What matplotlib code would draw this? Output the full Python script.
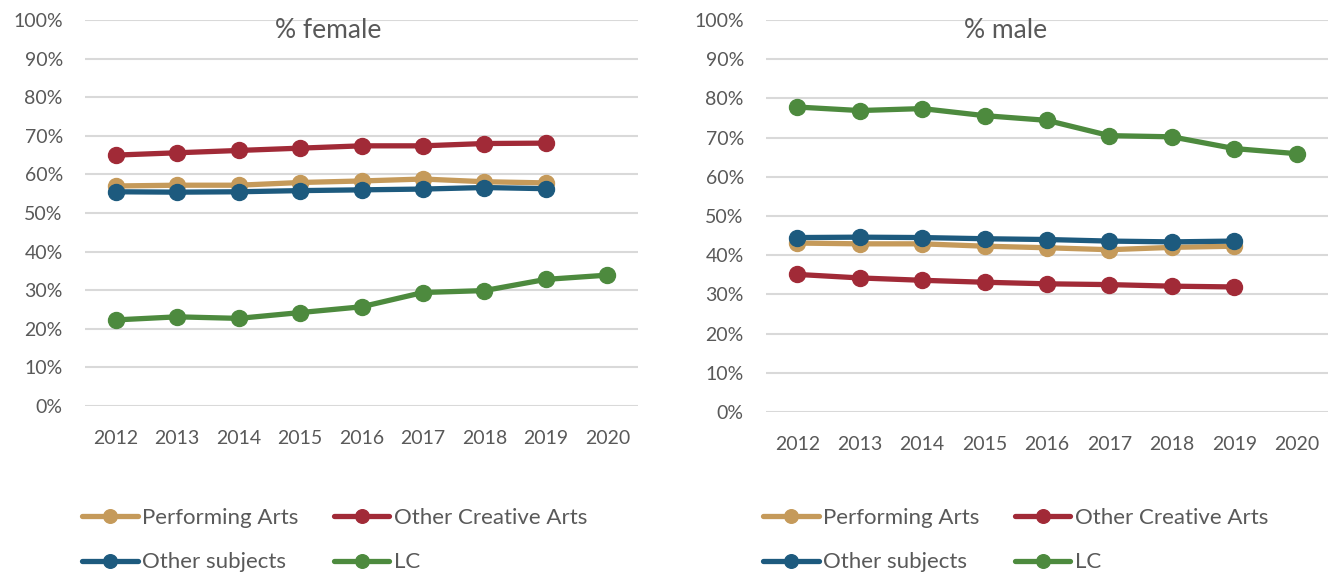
import matplotlib
matplotlib.use("Agg")
import matplotlib.pyplot as plt
from matplotlib.ticker import PercentFormatter

# share of entrants by gender, per subject group
years = ["2012", "2013", "2014", "2015", "2016", "2017", "2018", "2019", "2020"]
series = ["Performing Arts", "Other Creative Arts", "Other subjects", "LC"]

female_pa = [57.0, 57.2, 57.2, 57.9, 58.3, 58.8, 58.1, 57.8]
female_oca = [65.0, 65.6, 66.2, 66.8, 67.4, 67.4, 68.0, 68.1]
female_other = [55.5, 55.4, 55.5, 55.8, 56.0, 56.2, 56.6, 56.3]
female_lc = [22.3, 23.1, 22.7, 24.2, 25.7, 29.4, 29.9, 32.8, 33.9]

male_pa = [43.1, 42.9, 42.9, 42.3, 41.9, 41.4, 42.0, 42.3]
male_oca = [35.1, 34.2, 33.6, 33.1, 32.7, 32.5, 32.1, 31.9]
male_other = [44.5, 44.6, 44.5, 44.2, 44.0, 43.6, 43.4, 43.6]
male_lc = [77.8, 76.9, 77.4, 75.6, 74.4, 70.5, 70.2, 67.2, 65.9]

colors = ["#C59A5A", "#A12A37", "#1D5A7E", "#4D8A3E"]
textcol = "#595959"
plt.rcParams["font.family"] = ["Lato", "DejaVu Sans"]

W, H = 1333, 573
fig = plt.figure(figsize=(W / 100, H / 100), dpi=100)


def draw(rect, data, title, title_xy):
    l, t, r, b = rect
    ax = fig.add_axes([l / W, (H - b) / H, (r - l) / W, (b - t) / H])
    for vals, c, name in zip(data, colors, series):
        ax.plot(range(len(vals)), vals, color=c, lw=3.8, marker="o",
                ms=11.5, label=name, solid_capstyle="round", zorder=3)
    ax.set_xlim(-0.5, len(years) - 0.5)
    ax.set_ylim(0, 100)
    ax.set_yticks(range(0, 101, 10))
    ax.yaxis.set_major_formatter(PercentFormatter(decimals=0))
    ax.set_xticks(range(len(years)))
    ax.set_xticklabels(years)
    ax.grid(axis="y", color="#D9D9D9", lw=1.5)
    ax.set_axisbelow(True)
    for s in ax.spines.values():
        s.set_visible(False)
    ax.tick_params(length=0, labelsize=14, labelcolor=textcol)
    ax.tick_params(axis="y", pad=16)
    ax.tick_params(axis="x", pad=17)
    fig.text(title_xy[0] / W, 1 - title_xy[1] / H, title, ha="center",
             va="center", fontsize=19, color=textcol)
    handles, labels = ax.get_legend_handles_labels()
    # legend fills column-wise, so reorder to read across rows
    order = [0, 2, 1, 3]
    fig.legend([handles[i] for i in order], [labels[i] for i in order],
               ncol=2, loc="upper left",
               bbox_to_anchor=((rect[0] - 3) / W, 1 - 508 / H),
               frameon=False, fontsize=16, labelcolor=textcol,
               markerscale=0.85,
               handlelength=2.5, handletextpad=0.2, columnspacing=1.6,
               labelspacing=1.1, borderaxespad=0, borderpad=0)
    return ax


draw((85, 20, 638, 406), [female_pa, female_oca, female_other, female_lc],
     "% female", (328, 30))
draw((766, 20, 1328, 412), [male_pa, male_oca, male_other, male_lc],
     "% male", (1006, 30))

fig.savefig("out.png", dpi=100, facecolor="white")
